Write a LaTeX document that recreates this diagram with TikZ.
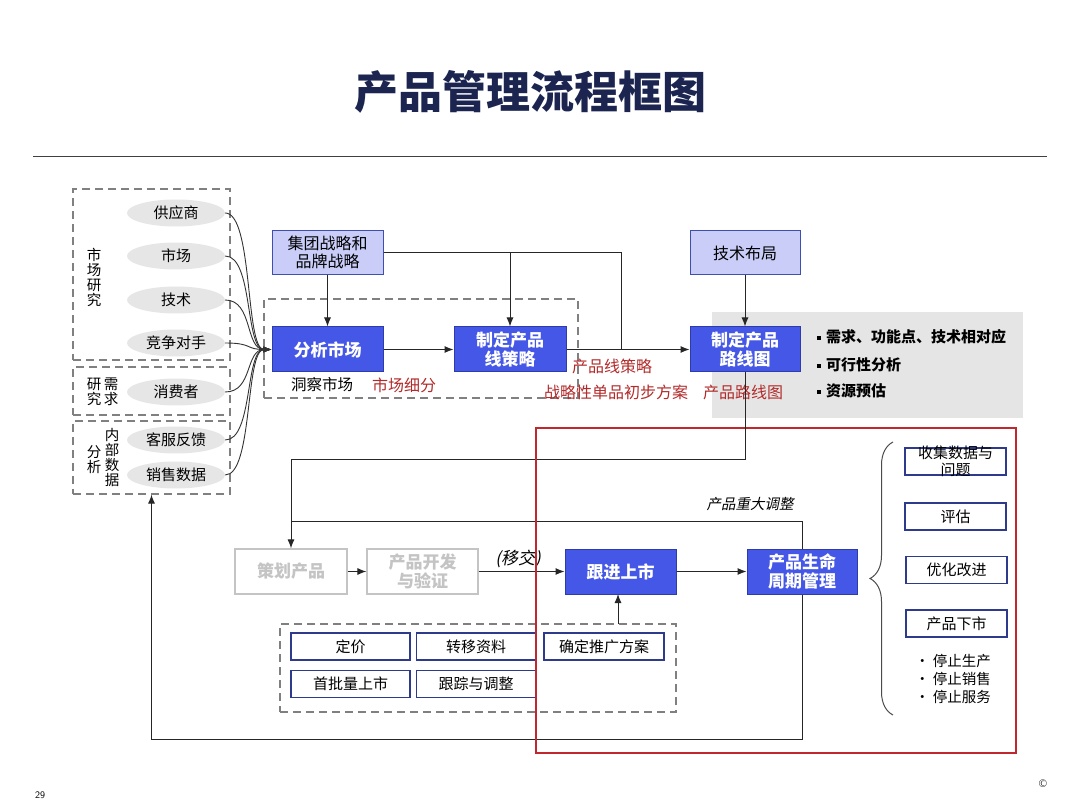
\documentclass[tikz,border=0pt]{standalone}
\usepackage{fontspec}
\setmainfont{Noto Sans CJK SC}
\newfontfamily\slantfont{Noto Sans CJK SC}[FakeSlant=0.2]
\usetikzlibrary{arrows.meta,decorations.pathreplacing,shapes.geometric,calc}
\definecolor{titleblue}{HTML}{1B2550}
\definecolor{bluefill}{HTML}{4557E6}
\definecolor{blueborder}{HTML}{2D3CA8}
\definecolor{lavender}{HTML}{C9CDF8}
\definecolor{lavborder}{HTML}{3E4FB3}
\definecolor{navy}{HTML}{2E3A8C}
\definecolor{ellgray}{HTML}{E6E6E6}
\definecolor{panelgray}{HTML}{E5E5E5}
\definecolor{dashgray}{HTML}{808080}
\definecolor{fadegray}{HTML}{C4C4C4}
\definecolor{darkred}{HTML}{C0282D}
\definecolor{lblred}{HTML}{B22A2A}
\begin{document}
\begin{tikzpicture}[x=1pt,y=-1pt,
  txt/.style={font=\fontsize{15.5}{17}\selectfont, inner sep=0pt},
  ell/.style={ellipse, fill=ellgray, minimum width=98pt, minimum height=27pt, inner sep=0pt, font=\fontsize{15}{17}\selectfont},
  lightbox/.style={draw=lavborder, fill=lavender, line width=1pt, align=center, inner sep=0pt, font=\fontsize{16}{18}\selectfont},
  bluebox/.style={draw=blueborder, fill=bluefill, line width=1pt, text=white, align=center, inner sep=0pt, font=\bfseries\fontsize{17}{19}\selectfont},
  fadebox/.style={draw=fadegray, line width=1.2pt, text=fadegray, align=center, inner sep=0pt, font=\bfseries\fontsize{17}{19}\selectfont},
  smallbox/.style={draw=navy, fill=white, line width=1.4pt, align=center, inner sep=0pt, minimum height=27pt, font=\fontsize{15}{17}\selectfont},
  dashbox/.style={draw=dashgray, line width=1.2pt, dash pattern=on 8pt off 5pt},
  vtxt/.style={align=center, inner sep=0pt, font=\fontsize{14.5}{15}\selectfont},
  redlbl/.style={text=lblred, inner sep=0pt, font=\fontsize{16}{18}\selectfont},
  conn/.style={draw=black!85, line width=1pt},
  arr/.style={conn, -{Latex[length=9pt,width=7pt]}},
  fan/.style={draw=black!80, line width=0.9pt, -{Latex[length=8pt,width=6pt]}},
]
\useasboundingbox (0,0) rectangle (1080,810);
\fill[white] (0,0) rectangle (1080,810);

% title and rule
\node[text=titleblue, font=\bfseries\fontsize{44}{48}\selectfont, inner sep=0pt] (title) at (530,92) {产品管理流程框图};
\draw[black!75, line width=1pt] (33,157) -- (1047,157);

% gray panel and red frame
\fill[panelgray] (712,312) rectangle (1023,418);
\draw[darkred, line width=1.5pt] (536,428) rectangle (1016,753);

% left dashed groups
\node[dashbox, minimum width=157pt, minimum height=171pt, inner sep=0pt] (in1) at (151.5,274.5) {};
\node[dashbox, minimum width=157pt, minimum height=48pt, inner sep=0pt] (in2) at (151.5,391) {};
\node[dashbox, minimum width=157pt, minimum height=73pt, inner sep=0pt] (in3) at (151.5,457.5) {};

\node[ell] (e1) at (176,213) {供应商};
\node[ell] (e2) at (176,256) {市场};
\node[ell] (e3) at (176,300) {技术};
\node[ell] (e4) at (176,343) {竞争对手};
\node[ell] (e5) at (176,392) {消费者};
\node[ell] (e6) at (176,440) {客服反馈};
\node[ell] (e7) at (176,475) {销售数据};

\node[vtxt] (v1) at (94,277) {市\\场\\研\\究};
\node[vtxt] (v2a) at (94,392) {研\\究};
\node[vtxt] (v2b) at (111,392) {需\\求};
\node[vtxt] (v3a) at (94,460) {分\\析};
\node[vtxt] (v3b) at (112,457) {内\\部\\数\\据};

% top boxes
\node[lightbox, minimum width=111pt, minimum height=44pt] (jt) at (327.5,252.5) {集团战略和\\品牌战略};
\node[lightbox, minimum width=110pt, minimum height=44pt] (js) at (745,253) {技术布局};

\node[dashbox, minimum width=314pt, minimum height=99pt, inner sep=0pt] (dc) at (421,348.5) {};
\node[bluebox, minimum width=111pt, minimum height=45pt] (an) at (327.5,349.5) {分析市场};
\node[bluebox, minimum width=112pt, minimum height=45pt] (xc) at (510,349.5) {制定产品\\线策略};
\node[bluebox, minimum width=110pt, minimum height=45pt] (rm) at (745,349.5) {制定产品\\路线图};

% fan-in curves
\foreach \e in {e1,e2,e3,e4,e5,e6,e7}{
  \draw[fan] (\e.east) .. controls ($(\e.east)+(28,0)$) and (245,349.5) .. (an.west);
}

% top connectors
\draw[arr] (jt.south) -- (an.north);
\draw[conn] (jt.east) -| (621,349.5);
\draw[arr] (510,252.5) -- (xc.north);
\draw[arr] (an.east) -- (xc.west);
\draw[arr] (xc.east) -- (rm.west);
\draw[arr] (js.south) -- (rm.north);

% labels around middle row
\node[txt, anchor=west] (l1) at (291,385) {洞察市场};
\node[redlbl, anchor=west] (l2) at (372,385) {市场细分};
\node[redlbl, anchor=west] (l3) at (572,366) {产品线策略};
\node[redlbl, anchor=west] (l4) at (544,392) {战略性单品初步方案};
\node[redlbl, anchor=west] (l5) at (703,392) {产品路线图};

% bullets in gray panel
\node[anchor=west, inner sep=0pt, font=\bfseries\fontsize{15}{17}\selectfont] (b1) at (817,337) {\raisebox{3pt}{\rule{4pt}{4pt}}\hspace{5pt}需求、功能点、技术相对应};
\node[anchor=west, inner sep=0pt, font=\bfseries\fontsize{15}{17}\selectfont] (b2) at (817,365) {\raisebox{3pt}{\rule{4pt}{4pt}}\hspace{5pt}可行性分析};
\node[anchor=west, inner sep=0pt, font=\bfseries\fontsize{15}{17}\selectfont] (b3) at (817,391) {\raisebox{3pt}{\rule{4pt}{4pt}}\hspace{5pt}资源预估};

% bottom row
\node[fadebox, minimum width=112pt, minimum height=45pt] (cp) at (291,571.5) {策划产品};
\node[fadebox, minimum width=111pt, minimum height=45pt] (kf) at (422.5,571.5) {产品开发\\与验证};
\node[bluebox, minimum width=111pt, minimum height=45pt] (gj) at (620.5,571.5) {跟进上市};
\node[bluebox, minimum width=110pt, minimum height=45pt] (lc) at (802,571.5) {产品生命\\周期管理};

\draw[arr] (rm.south) -- (745,460) -| (cp.north);
\draw[arr] (cp.east) -- (kf.west);
\draw[arr] (kf.east) -- (gj.west);
\draw[arr] (gj.east) -- (lc.west);
\node[inner sep=0pt, font=\slantfont\fontsize{17}{19}\selectfont] (yj) at (518,559) {(移交)};

% major adjustment loop
\draw[conn] (lc.north) |- (291,521.5);
\draw[arr] (lc.south) -- (802,739.5) -| (in3.south);
\node[inner sep=0pt, font=\slantfont\fontsize{14.5}{16}\selectfont] (tz) at (750,504) {产品重大调整};

% bottom dashed group
\node[dashbox, minimum width=396pt, minimum height=88pt, inner sep=0pt] (db) at (478,668) {};
\node[smallbox, minimum width=119pt] (s1) at (350.5,646.5) {定价};
\node[smallbox, minimum width=119pt] (s2) at (476,646.5) {转移资料};
\node[smallbox, minimum width=120pt] (s3) at (604,646.5) {确定推广方案};
\node[smallbox, minimum width=119pt] (s4) at (350.5,684) {首批量上市};
\node[smallbox, minimum width=119pt] (s5) at (476,684) {跟踪与调整};
\draw[arr] (618,624) -- (618,594);
\draw[darkred, line width=1.5pt] (536,428) -- (536,753);

% brace and right column
\draw[black!70, line width=1pt, decorate, decoration={brace, amplitude=23pt, aspect=0.5}] (893,715) -- (893,442);
\node[smallbox, minimum width=101pt] (r1) at (955.5,461.5) {};
\node[inner sep=0pt, align=center, font=\fontsize{15}{17.5}\selectfont] (r1t) at (955.5,461.5) {收集数据与\\问题};
\node[smallbox, minimum width=101pt] (r2) at (955.5,516.5) {评估};
\node[smallbox, minimum width=101pt] (r3) at (956.5,570) {优化改进};
\node[smallbox, minimum width=101pt] (r4) at (956.5,623.5) {产品下市};
\node[inner sep=0pt, align=left, font=\fontsize{14.5}{18}\selectfont] (rb) at (953,678.5) {• 停止生产\\• 停止销售\\• 停止服务};

% footer
\node[inner sep=0pt, font=\sffamily\fontsize{10}{12}\selectfont] (pg) at (40,795) {29};
\node[inner sep=0pt, font=\sffamily\fontsize{11}{12}\selectfont] (cr) at (1043,784) {©};
\end{tikzpicture}
\end{document}
